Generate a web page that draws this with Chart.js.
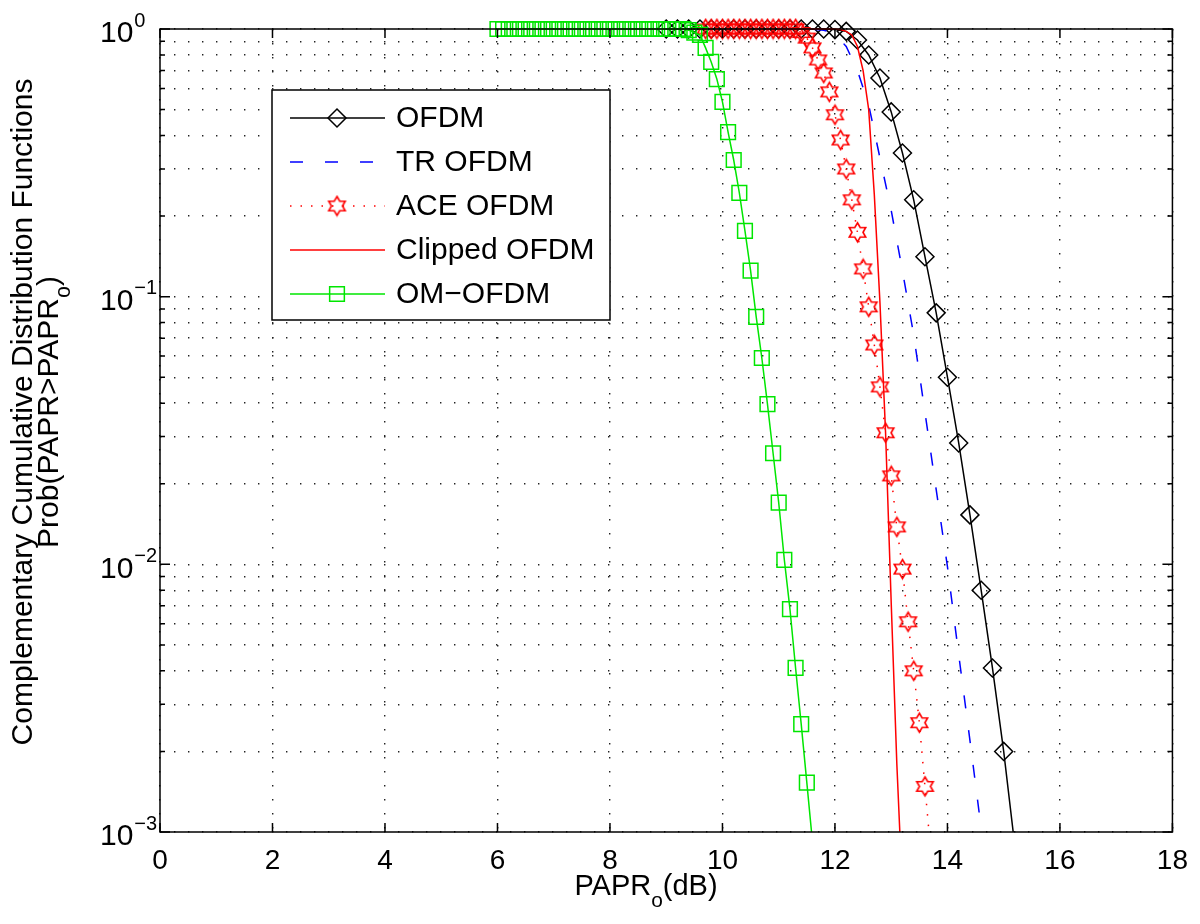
<!DOCTYPE html>
<html>
<head>
<meta charset="utf-8">
<script src="https://cdn.jsdelivr.net/npm/chart.js@4.4.1/dist/chart.umd.min.js"></script>
<style>
  html, body { margin: 0; padding: 0; background: #fff; }
  #wrap { width: 1200px; height: 924px; }
</style>
</head>
<body>
<div id="wrap"><canvas id="ccdfChart" width="1200" height="924"></canvas></div>
<script>
// axis ticks
const xTicks = [0, 2, 4, 6, 8, 10, 12, 14, 16, 18];
const yTicks = [0.001, 0.002, 0.003, 0.004, 0.005, 0.006, 0.007, 0.008, 0.009,
                0.01, 0.02, 0.03, 0.04, 0.05, 0.06, 0.07, 0.08, 0.09,
                0.1, 0.2, 0.3, 0.4, 0.5, 0.6, 0.7, 0.8, 0.9, 1];
const yDecades = [1, 0.1, 0.01, 0.001];
const yDecadeExp = ['0', '\u22121', '\u22122', '\u22123'];

const seriesNames = ['OFDM', 'TR OFDM', 'ACE OFDM', 'Clipped OFDM', 'OM\u2212OFDM'];

// OFDM (black, diamonds)
const ofdmX = [9.0, 9.2, 9.4, 9.6, 9.8, 10.0, 10.2, 10.4, 10.6, 10.8, 11.0, 11.2, 11.4, 11.6, 11.8,
               12.0, 12.2, 12.4, 12.6, 12.8, 13.0, 13.2, 13.4, 13.6, 13.8, 14.0, 14.2, 14.4, 14.6, 14.8, 15.0, 15.2];
const ofdmY = [1, 1, 1, 1, 1, 1, 1, 1, 1, 1, 1, 1, 1, 1, 1,
               0.995, 0.98, 0.91, 0.80, 0.656, 0.49, 0.344, 0.23, 0.141, 0.087, 0.050, 0.0284, 0.0153, 0.0080, 0.0041, 0.0020, 0.00088];

// TR OFDM (blue dashed)
const trX = [11.0, 11.2, 11.4, 11.6, 11.8, 12.0, 12.2, 12.4, 12.6, 12.8, 13.0, 13.2, 13.4, 13.6, 13.8, 14.0, 14.2, 14.4, 14.6, 14.8];
const trY = [1, 1, 1, 0.998, 0.99, 0.96, 0.86, 0.70, 0.52, 0.33, 0.21, 0.125, 0.072, 0.037, 0.019, 0.0098, 0.0046, 0.0022, 0.00103, 0.00045];

// ACE OFDM (red dotted, hexagrams)
const aceX = [9.7, 9.8, 9.9, 10.0, 10.1, 10.2, 10.3, 10.4, 10.5, 10.6, 10.7, 10.8, 10.9, 11.0, 11.1, 11.2, 11.3,
              11.4, 11.5, 11.6, 11.7, 11.8, 11.9, 12.0, 12.1, 12.2, 12.3, 12.4, 12.5, 12.6, 12.7, 12.8, 12.9,
              13.0, 13.1, 13.2, 13.3, 13.4, 13.5, 13.6, 13.7];
const aceY = [1, 1, 1, 1, 1, 1, 1, 1, 1, 1, 1, 1, 1, 1, 1, 1, 1,
              0.97, 0.925, 0.85, 0.766, 0.685, 0.582, 0.478, 0.385, 0.30, 0.23, 0.174, 0.127, 0.0916, 0.066, 0.046, 0.031,
              0.0214, 0.0138, 0.0096, 0.0061, 0.0040, 0.00256, 0.00148, 0.00086];

// Clipped OFDM (red solid)
const clipX = [11.0, 11.2, 11.4, 11.6, 11.8, 12.0, 12.1, 12.2, 12.3, 12.4, 12.5, 12.6, 12.7, 12.8, 12.9, 13.0, 13.1, 13.2];
const clipY = [1, 1, 1, 1, 1, 0.999, 0.995, 0.98, 0.95, 0.86, 0.70, 0.50, 0.24, 0.095, 0.031, 0.0072, 0.0018, 0.0006];

// OM-OFDM (green, squares)
const omX = [6.0, 6.1, 6.2, 6.3, 6.4, 6.5, 6.6, 6.7, 6.8, 6.9, 7.0, 7.1, 7.2, 7.3, 7.4, 7.5, 7.6, 7.7, 7.8, 7.9,
             8.0, 8.1, 8.2, 8.3, 8.4, 8.5, 8.6, 8.7, 8.8, 8.9, 9.0, 9.1, 9.2, 9.3,
             9.4, 9.5, 9.6, 9.7, 9.8, 9.9, 10.0, 10.1, 10.2, 10.3, 10.4, 10.5, 10.6, 10.7, 10.8, 10.9,
             11.0, 11.1, 11.2, 11.3, 11.4, 11.5, 11.6];
const omY = [1, 1, 1, 1, 1, 1, 1, 1, 1, 1, 1, 1, 1, 1, 1, 1, 1, 1, 1, 1,
             1, 1, 1, 1, 1, 1, 1, 1, 1, 1, 1, 1, 1, 1,
             0.99, 0.97, 0.95, 0.85, 0.753, 0.65, 0.534, 0.412, 0.324, 0.244, 0.176, 0.125, 0.084, 0.059, 0.0397, 0.026,
             0.017, 0.0104, 0.0068, 0.0041, 0.00253, 0.00153, 0.00092];

const FONT = "'Liberation Sans', Arial, Helvetica, sans-serif";

function zip(xs, ys) {
  return xs.map((x, i) => ({ x: x, y: ys[i] }));
}

// MATLAB-like hexagram marker
function hexagram(color, r) {
  const size = Math.ceil(2 * r + 4);
  const c = document.createElement('canvas');
  c.width = size;
  c.height = size;
  const g = c.getContext('2d');
  const cx = size / 2, cy = size / 2, ri = r / Math.sqrt(3);
  g.beginPath();
  for (let k = 0; k < 12; k++) {
    const a = -Math.PI / 2 + k * Math.PI / 6;
    const rr = k % 2 === 0 ? r : ri;
    g.lineTo(cx + rr * Math.cos(a), cy + rr * Math.sin(a));
  }
  g.closePath();
  g.strokeStyle = color;
  g.lineWidth = 1.6;
  g.stroke();
  return c;
}

const starMarker = hexagram('#ff0000', 9.5);
const clipOpt = { left: 30, top: false, right: 30, bottom: 0 };

function drawRich(ctx, parts, x, y, size) {
  const subSize = size * 0.72;
  let total = 0;
  parts.forEach(p => {
    ctx.font = (p.sub ? subSize : size) + 'px ' + FONT;
    p.w = ctx.measureText(p.t).width;
    total += p.w;
  });
  let cx = x - total / 2;
  parts.forEach(p => {
    ctx.font = (p.sub ? subSize : size) + 'px ' + FONT;
    ctx.fillText(p.t, cx, y + (p.sub ? size * 0.4 : 0));
    cx += p.w;
  });
}

const matlabAxes = {
  id: 'matlabAxes',
  afterDatasetsDraw(chart) {
    const { ctx, chartArea: a, scales: { x, y } } = chart;
    ctx.save();
    ctx.strokeStyle = '#000';
    ctx.lineWidth = 1.5;
    ctx.strokeRect(a.left, a.top, a.right - a.left, a.bottom - a.top);
    ctx.beginPath();
    xTicks.forEach(v => {
      const px = x.getPixelForValue(v);
      ctx.moveTo(px, a.bottom); ctx.lineTo(px, a.bottom - 9);
      ctx.moveTo(px, a.top); ctx.lineTo(px, a.top + 9);
    });
    yTicks.forEach(v => {
      const py = y.getPixelForValue(v);
      const len = yDecades.includes(v) ? 10 : 5;
      ctx.moveTo(a.left, py); ctx.lineTo(a.left + len, py);
      ctx.moveTo(a.right, py); ctx.lineTo(a.right - len, py);
    });
    ctx.stroke();

    // decade labels 10^n
    ctx.fillStyle = '#000';
    ctx.textBaseline = 'middle';
    ctx.textAlign = 'left';
    yDecades.forEach((v, i) => {
      const py = y.getPixelForValue(v);
      ctx.font = '30px ' + FONT;
      const w10 = ctx.measureText('10').width;
      ctx.fillText('10', 100, py + 5);
      ctx.font = '20px ' + FONT;
      ctx.fillText(yDecadeExp[i], 100 + w10 + 1, py - 8);
    });

    // axis titles
    ctx.textBaseline = 'alphabetic';
    drawRich(ctx, [{ t: 'PAPR' }, { t: 'o', sub: true }, { t: '(dB)' }], 646, 895, 29);
    ctx.save();
    ctx.translate(0, 412);
    ctx.rotate(-Math.PI / 2);
    drawRich(ctx, [{ t: 'Complementary Cumulative Distribution Functions' }], 0, 32, 30);
    drawRich(ctx, [{ t: 'Prob(PAPR>PAPR' }, { t: 'o', sub: true }, { t: ')' }], 0, 58, 30);
    ctx.restore();
    ctx.restore();
  },
  afterDraw(chart) {
    const { ctx } = chart;
    const box = { left: 272, top: 90, right: 610, bottom: 320 };
    ctx.save();
    ctx.fillStyle = '#fff';
    ctx.fillRect(box.left, box.top, box.right - box.left, box.bottom - box.top);
    ctx.strokeStyle = '#000';
    ctx.lineWidth = 1.5;
    ctx.strokeRect(box.left, box.top, box.right - box.left, box.bottom - box.top);
    chart.data.datasets.forEach((ds, i) => {
      const cy = 118 + i * 44;
      ctx.save();
      ctx.strokeStyle = ds.borderColor;
      ctx.lineWidth = ds.borderWidth;
      ctx.setLineDash(ds.borderDash || []);
      ctx.beginPath();
      ctx.moveTo(290, cy);
      ctx.lineTo(385, cy);
      ctx.stroke();
      ctx.setLineDash([]);
      if (ds.pointRadius > 0) {
        ctx.strokeStyle = ds.pointBorderColor || ds.borderColor;
        ctx.fillStyle = 'rgba(0,0,0,0)';
        Chart.helpers.drawPoint(ctx, {
          pointStyle: ds.pointStyle, radius: ds.pointRadius, borderWidth: ds.pointBorderWidth || 1.5, rotation: 0
        }, 337, cy);
      }
      ctx.restore();
      ctx.fillStyle = '#000';
      ctx.font = '30px ' + FONT;
      ctx.textBaseline = 'middle';
      ctx.fillText(ds.label, 396, cy + 1);
    });
    ctx.restore();
  }
};

const common = { tension: 0, fill: false, clip: clipOpt, borderWidth: 1.5 };

new Chart(document.getElementById('ccdfChart'), {
  type: 'line',
  data: {
    datasets: [
      Object.assign({ label: seriesNames[0], data: zip(ofdmX, ofdmY), borderColor: '#000000',
        pointStyle: 'rectRot', pointRadius: 9, pointBorderColor: '#000000', pointBackgroundColor: 'rgba(0,0,0,0)',
        pointBorderWidth: 1.5, order: 5 }, common),
      Object.assign({ label: seriesNames[1], data: zip(trX, trY), borderColor: '#0000ff', borderDash: [13, 22],
        pointRadius: 0, order: 4 }, common),
      Object.assign({ label: seriesNames[2], data: zip(aceX, aceY), borderColor: '#ff0000', borderDash: [1.5, 9],
        pointStyle: starMarker, pointRadius: 9, pointBorderColor: '#ff0000', pointBackgroundColor: 'rgba(0,0,0,0)',
        order: 3 }, common),
      Object.assign({ label: seriesNames[3], data: zip(clipX, clipY), borderColor: '#ff0000',
        pointRadius: 0, order: 2 }, common),
      Object.assign({ label: seriesNames[4], data: zip(omX, omY), borderColor: '#00e600',
        pointStyle: 'rect', pointRadius: 10.4, pointBorderColor: '#00e600', pointBackgroundColor: 'rgba(0,0,0,0)',
        pointBorderWidth: 1.5, order: 1 }, common)
    ]
  },
  options: {
    responsive: false,
    animation: false,
    events: [],
    layout: { padding: { left: 160, top: 29, right: 20, bottom: 0 } },
    plugins: { legend: { display: false }, tooltip: { enabled: false } },
    scales: {
      x: {
        type: 'linear', min: 0, max: 18,
        afterBuildTicks: s => { s.ticks = xTicks.map(v => ({ value: v })); },
        afterFit: s => { s.height = 92; },
        grid: { color: '#222', lineWidth: 1.4, drawTicks: false },
        border: { display: false, dash: [1.4, 12.6] },
        ticks: { color: '#000', padding: 12, font: { family: FONT, size: 28 }, autoSkip: false, maxRotation: 0 }
      },
      y: {
        type: 'logarithmic', min: 0.001, max: 1,
        afterBuildTicks: s => { s.ticks = yTicks.map(v => ({ value: v, major: yDecades.includes(v) })); },
        afterFit: s => { s.width = 0; },
        grid: { color: '#222', lineWidth: 1.4, drawTicks: false },
        border: { display: false, dash: [1.4, 12.6] },
        ticks: { display: false, autoSkip: false }
      }
    }
  },
  plugins: [matlabAxes]
});
</script>
</body>
</html>
